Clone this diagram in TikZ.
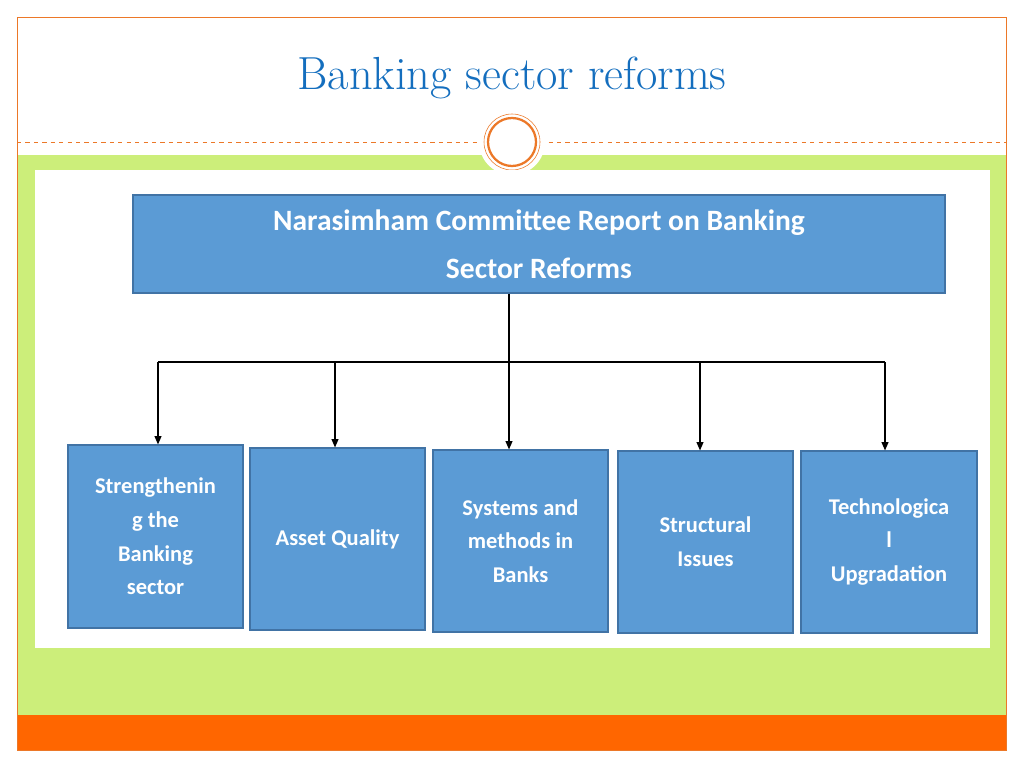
\documentclass[tikz,border=0pt]{standalone}
\usepackage{fontspec}
\setsansfont{Carlito}
\usetikzlibrary{arrows.meta}
\definecolor{titleblue}{RGB}{20,110,190}
\definecolor{boxblue}{RGB}{91,155,213}
\definecolor{boxline}{RGB}{65,115,165}
\definecolor{leaf}{RGB}{204,238,122}
\definecolor{rust}{RGB}{236,120,40}
\definecolor{flame}{RGB}{255,102,0}
\tikzset{
  every node/.style={text=white},
  blockbox/.style={draw=boxline, fill=boxblue, line width=0.8pt, align=center,
    font=\sffamily\bfseries\fontsize{16}{24}\selectfont, inner sep=0pt},
  feed/.style={-{Triangle[length=6pt,width=5pt]}, line width=0.8pt}
}
\begin{document}
\begin{tikzpicture}[x=0.025cm,y=-0.025cm]
    \useasboundingbox (0,0) rectangle (1024,768);
    %\draw[gray, very thin] (0,0) grid (1024,768);
    \fill[leaf] (17,155) rectangle (1006,715);
    \fill[flame] (17,715) rectangle (1006,750);
    \draw[rust, line width=0.4pt] (17,17) rectangle (1006,750);
    \draw[rust, dashed, line width=0.4pt] (17,142) -- (1006,142);
    \fill[white] (512,142) circle (33);
    \draw[rust, line width=1.6pt] (512,142) circle (24);
    \draw[rust, line width=0.4pt] (512,142) circle (28);
    \node[text=titleblue, font=\fontsize{33}{38}\selectfont] (title) at (512,78) {Banking sector reforms};
    \fill[white] (35,170) rectangle (990,648);
    \node[blockbox, minimum width=812*0.025cm, minimum height=98*0.025cm,
      font=\sffamily\bfseries\fontsize{21}{34}\selectfont] (report) at (539,244)
      {Narasimham Committee Report on Banking\\Sector Reforms};
    \node[blockbox, minimum width=175*0.025cm, minimum height=183*0.025cm] (b1) at (155.5,536.5)
      {Strengthenin\\g the\\Banking\\sector};
    \node[blockbox, minimum width=175*0.025cm, minimum height=182*0.025cm] (b2) at (337.5,539) {Asset Quality};
    \node[blockbox, minimum width=175*0.025cm, minimum height=182*0.025cm] (b3) at (520.5,541)
      {Systems and\\methods in\\Banks};
    \node[blockbox, minimum width=175*0.025cm, minimum height=182*0.025cm] (b4) at (705.5,542)
      {Structural\\Issues};
    \node[blockbox, minimum width=176*0.025cm, minimum height=182*0.025cm] (b5) at (889,542)
      {Technologica\\l\\Upgradation};
    \coordinate (bus) at (509,362);
    \draw[line width=0.8pt] (158,362) -- (885,362);
    \draw[feed] (report.south -| bus) -- (b3.north -| bus);
    \draw[feed] (158,362) -- (b1.north -| 158,0);
    \draw[feed] (335,362) -- (b2.north -| 335,0);
    \draw[feed] (700,362) -- (b4.north -| 700,0);
    \draw[feed] (885,362) -- (b5.north -| 885,0);
\end{tikzpicture}
\end{document}
